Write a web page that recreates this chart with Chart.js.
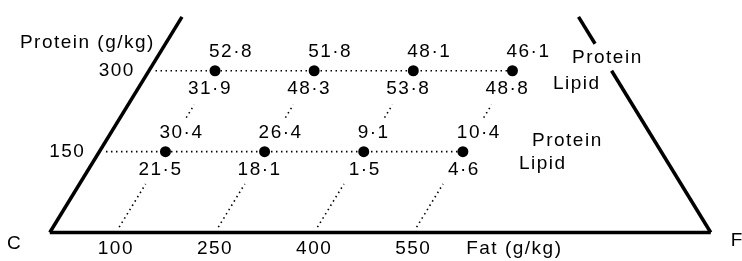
<!DOCTYPE html>
<html>
<head>
<meta charset="utf-8">
<script src="https://cdn.jsdelivr.net/npm/chart.js@4"></script>
<style>
  html, body { margin: 0; background: #fff; }
  #wrap { width: 742px; height: 261px; }
</style>
</head>
<body>
<div id="wrap"><canvas id="tri"></canvas></div>
<script>
// diet composition grid (g/kg) and efficiencies
const fatLevels = [100, 250, 400, 550];
const proteinLevels = [150, 300];
const protein300 = [52.8, 51.8, 48.1, 46.1];
const lipid300 = [31.9, 48.3, 53.8, 48.8];
const protein150 = [30.4, 26.4, 9.1, 10.4];
const lipid150 = [21.5, 18.1, 1.5, 4.6];

// triangle coords: fat along the base, protein along the sloping side
const tern = (fat, prot) => ({ x: fat + prot / 2, y: prot });
const fmt = v => v.toFixed(1).replace('.', '\u00b7');

const solid = { borderColor: '#000', borderWidth: 3.5, pointRadius: 0, showLine: true, fill: false };
const dotted = { borderColor: '#000', borderWidth: 1.6, borderDash: [1.5, 3.5], pointRadius: 0, showLine: true, fill: false };

const datasets = [
  { ...solid, data: [tern(0, 0), tern(1000, 0)] },
  { ...solid, data: [tern(0, 0), tern(0, 400)] },
  { ...solid, data: [tern(1000, 0), tern(700, 300)] },
  { ...solid, data: [tern(650, 350), tern(600, 400)] }
];
proteinLevels.forEach(p => {
  datasets.push({ ...dotted, data: [tern(10, p), tern(fatLevels[fatLevels.length - 1], p)] });
});
fatLevels.forEach(f => {
  datasets.push({ ...dotted, data: [tern(f, 10), tern(f, 90)] });
  datasets.push({ ...dotted, data: [tern(f, 213), tern(f, 237)] });
});
const pts = [];
proteinLevels.forEach(p => fatLevels.forEach(f => pts.push(tern(f, p))));
datasets.push({ data: pts, pointRadius: 5.5, pointBackgroundColor: '#000', pointBorderWidth: 0, showLine: false });

const rows = [
  { p: 300, top: protein300, bottom: lipid300 },
  { p: 150, top: protein150, bottom: lipid150 }
];

const labels = {
  id: 'labels',
  afterDatasetsDraw(chart) {
    const { ctx, scales: { x, y } } = chart;
    const px = (f, p) => x.getPixelForValue(tern(f, p).x);
    const py = p => y.getPixelForValue(p);
    ctx.save();
    ctx.fillStyle = '#000';
    ctx.font = '19px "Liberation Sans", Arial, sans-serif';
    ctx.letterSpacing = '1.5px';
    ctx.textBaseline = 'alphabetic';

    rows.forEach(r => {
      fatLevels.forEach((f, i) => {
        const cx = px(f, r.p), cy = py(r.p);
        ctx.textAlign = 'left';
        ctx.fillText(fmt(r.top[i]), cx - 6, cy - 14);
        ctx.textAlign = 'right';
        ctx.fillText(fmt(r.bottom[i]), cx + 17, cy + 23);
      });
    });

    // protein ticks on the left side
    ctx.textAlign = 'right';
    ctx.textBaseline = 'middle';
    proteinLevels.forEach(p => ctx.fillText(String(p), px(0, p) - 14, py(p)));

    // fat ticks on the base
    ctx.textAlign = 'center';
    ctx.textBaseline = 'alphabetic';
    fatLevels.forEach(f => ctx.fillText(String(f), px(f, 0), py(0) + 21));

    ctx.textAlign = 'left';
    ctx.fillText('Fat (g/kg)', px(630, 0), py(0) + 21);
    ctx.textAlign = 'right';
    ctx.fillText('Protein (g/kg)', px(0, 300) + 6, py(300) - 23);
    ctx.textAlign = 'left';
    ctx.fillText('C', 7, py(0) + 16);
    ctx.fillText('F', px(1000, 0) + 20, py(0) + 13);

    // row keys
    ctx.fillText('Protein', 572, py(300) - 8);
    ctx.fillText('Lipid', 553, py(300) + 18);
    ctx.fillText('Protein', 532, py(150) - 6);
    ctx.fillText('Lipid', 519, py(150) + 17);
    ctx.restore();
  }
};

new Chart(document.getElementById('tri'), {
  type: 'scatter',
  data: { datasets },
  options: {
    responsive: true,
    maintainAspectRatio: false,
    animation: false,
    layout: { padding: 0 },
    plugins: { legend: { display: false }, tooltip: { enabled: false } },
    scales: {
      x: { type: 'linear', min: -67, max: 1039, display: false },
      y: { type: 'linear', min: -42.6, max: 421, display: false }
    },
    elements: { line: { tension: 0 } }
  },
  plugins: [labels]
});
</script>
</body>
</html>
